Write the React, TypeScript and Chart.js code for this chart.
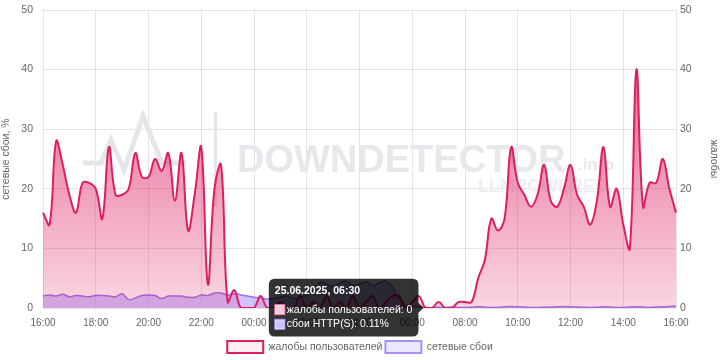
import React, { useEffect, useRef } from 'react';
import { Chart, registerables } from 'chart.js';

Chart.register(...registerables);

// 15-minute samples from 24.06.2025 16:00 to 25.06.2025 16:00
const complaints = [
  16, 14, 28, 24, 19, 16, 21, 21,
  20, 15, 27, 19, 19, 20, 26, 22,
  22, 25, 23, 26, 18, 26, 13, 19,
  27, 4, 20, 24, 1, 3, 0, 0,
  0, 2, 0, 0, 1, 0, 0, 2,
  0, 1, 0, 2, 0, 1, 0, 2,
  0, 1, 2, 0, 1, 2, 2, 0,
  1, 2, 0, 0, 1, 0, 0, 1,
  1, 1, 5, 8, 15, 13, 15, 27,
  21, 19, 17, 19, 24, 18, 17, 20,
  24, 19, 17, 14, 18, 27, 17, 20,
  14, 10, 40, 17, 21, 21, 25, 20,
  16,
];

const networkFailures = [
  2.0, 2.2, 2.0, 2.3, 1.9, 2.1, 2.0, 1.9,
  2.1, 2.1, 2.0, 1.9, 2.4, 1.4, 1.7, 2.1,
  2.2, 2.1, 1.6, 2.0, 2.0, 2.0, 1.8, 1.8,
  2.2, 2.1, 2.5, 2.5, 2.2, 2.4, 2.2, 2.0,
  1.8, 1.7, 1.5, 1.6, 1.8, 2.0, 1.6, 1.8,
  2.2, 3.0, 4.3, 4.0, 3.6, 4.2, 4.5, 3.8,
  4.0, 4.4, 3.8, 4.2, 4.5, 3.5, 1.5, 0.5,
  0.3, 0.2, 0.11, 0.1, 0.12, 0.1, 0.15, 0.1,
  0.1, 0.12, 0.2, 0.15, 0.1, 0.1, 0.2, 0.25,
  0.2, 0.15, 0.1, 0.1, 0.12, 0.15, 0.2, 0.25,
  0.2, 0.15, 0.12, 0.1, 0.12, 0.2, 0.15, 0.1,
  0.1, 0.15, 0.2, 0.15, 0.1, 0.15, 0.2, 0.25,
  0.3,
];

const hourTickLabels = [
  '16:00', '18:00', '20:00', '22:00', '00:00', '02:00', '04:00',
  '06:00', '08:00', '10:00', '12:00', '14:00', '16:00',
];

const seriesNames = ['жалобы пользователей', 'сетевые сбои'];
const tooltipNames = ['жалобы пользователей', 'сбои HTTP(S)'];
const axisTitles = ['сетевые сбои, %', 'жалобы'];
const tooltipIndex = 58;

// time stamps for each 15-minute sample
const pad = (n: number) => (n < 10 ? '0' + n : '' + n);
const timeLabels: string[] = [];
for (let i = 0; i < complaints.length; i++) {
  const minutes = 16 * 60 + i * 15;
  const day = minutes >= 24 * 60 ? '25.06.2025' : '24.06.2025';
  const m = minutes % (24 * 60);
  timeLabels.push(`${day}, ${pad(Math.floor(m / 60))}:${pad(m % 60)}`);
}

const PINK = 'rgb(222, 30, 97)';
const PURPLE_LINE = 'rgb(160, 110, 235)';
const PURPLE_FILL = 'rgba(150, 125, 250, 0.45)';
const FONT = "'Liberation Sans', Arial, Helvetica, sans-serif";
const GRID = 'rgba(0, 0, 0, 0.1)';
const TXT = '#666';

const watermarkPlugin = {
  id: 'watermark',
  afterLayout(chart: any) {
    const lg = chart.legend;
    if (lg) {
      lg.top += 3;
      lg.bottom += 3;
    }
  },
  beforeDatasetsDraw(chart: any) {
    const ctx = chart.ctx as CanvasRenderingContext2D;
    ctx.save();
    ctx.strokeStyle = '#e4e6e9';
    ctx.lineWidth = 5;
    ctx.lineJoin = 'miter';
    ctx.beginPath();
    ctx.moveTo(83, 163);
    ctx.lineTo(101, 163);
    ctx.lineTo(111, 140);
    ctx.lineTo(124, 170);
    ctx.lineTo(143, 116);
    ctx.lineTo(162, 163);
    ctx.lineTo(186, 163);
    ctx.stroke();
    ctx.fillStyle = '#e4e6e9';
    ctx.fillRect(214, 112, 3, 95);
    ctx.fillStyle = '#e6e8eb';
    ctx.textBaseline = 'alphabetic';
    ctx.textAlign = 'left';
    ctx.font = `bold 38px ${FONT}`;
    ctx.fillText('DOWNDETECTOR', 237, 172);
    ctx.font = `bold 17px ${FONT}`;
    ctx.fillText('.info', 578, 170);
    ctx.fillStyle = '#eceef0';
    ctx.font = `bold 18px ${FONT}`;
    ctx.fillText('LLMPOWERED', 478, 192);
    ctx.restore();
  },
};

export default function App() {
  const canvasRef = useRef<HTMLCanvasElement | null>(null);

  useEffect(() => {
    document.body.style.margin = '0';
    const canvas = canvasRef.current;
    if (!canvas) return;

    const pinkFill = (c: any) => {
      const area = c.chart.chartArea;
      if (!area) return 'rgba(222, 30, 97, 0.4)';
      const g = c.chart.ctx.createLinearGradient(0, area.top, 0, area.bottom);
      g.addColorStop(0, 'rgba(222, 30, 97, 0.8)');
      g.addColorStop(1, 'rgba(222, 30, 97, 0.18)');
      return g;
    };

    const fitVertical = (w: number) => (s: any) => {
      s.width = w;
      s.paddingTop = 0;
      s.paddingBottom = 0;
    };

    const chart = new Chart(canvas, {
      type: 'line',
      data: {
        labels: timeLabels,
        datasets: [
          {
            label: seriesNames[0],
            data: complaints,
            yAxisID: 'y1',
            borderColor: PINK,
            backgroundColor: pinkFill,
            borderWidth: 2,
            fill: 'origin',
            tension: 0.4,
            pointRadius: 0,
            pointHoverRadius: 0,
          },
          {
            label: seriesNames[1],
            data: networkFailures,
            yAxisID: 'y',
            borderColor: PURPLE_LINE,
            backgroundColor: PURPLE_FILL,
            borderWidth: 1.5,
            fill: 'origin',
            tension: 0.4,
            pointRadius: 0,
            pointHoverRadius: 0,
          },
        ],
      },
      options: {
        responsive: false,
        animation: false,
        font: { family: FONT },
        layout: { padding: { top: 10, left: 0, right: 0, bottom: 0 } },
        interaction: { mode: 'index', intersect: false },
        scales: {
          x: {
            type: 'category',
            offset: false,
            grid: {
              color: (c: any) => (c.index % 8 === 0 ? GRID : 'transparent'),
              drawTicks: false,
            },
            border: { display: false },
            ticks: {
              autoSkip: false,
              maxRotation: 0,
              padding: 9,
              color: TXT,
              font: { size: 10, family: FONT },
              callback: (_v: any, i: number) => (i % 8 === 0 ? hourTickLabels[i / 8] : ''),
            },
            afterFit: (s: any) => { s.height = 27; s.paddingLeft = 0; s.paddingRight = 0; },
          },
          y: {
            position: 'left',
            min: 0,
            max: 50,
            grid: { color: GRID, drawTicks: false },
            border: { display: false },
            ticks: { stepSize: 10, padding: 10, color: TXT, font: { size: 10.5, family: FONT } },
            title: { display: true, text: axisTitles[0], color: TXT, font: { size: 10.5, family: FONT }, padding: 0 },
            afterFit: fitVertical(43),
          },
          y1: {
            position: 'right',
            min: 0,
            max: 50,
            grid: { drawOnChartArea: false, drawTicks: false },
            border: { display: false },
            ticks: { stepSize: 10, padding: 4, color: TXT, font: { size: 10.5, family: FONT } },
            title: { display: true, text: axisTitles[1], color: TXT, font: { size: 10.5, family: FONT }, padding: 0 },
            afterFit: fitVertical(44),
          },
        },
        plugins: {
          legend: {
            position: 'bottom',
            labels: {
              boxWidth: 36,
              boxHeight: 12,
              padding: 3,
              color: TXT,
              font: { size: 10.5, family: FONT },
              generateLabels: () => [
                {
                  text: seriesNames[0],
                  fillStyle: 'rgba(222, 30, 97, 0.08)',
                  strokeStyle: PINK,
                  lineWidth: 2,
                  datasetIndex: 0,
                  hidden: false,
                  fontColor: TXT,
                },
                {
                  text: seriesNames[1],
                  fillStyle: 'rgba(150, 125, 250, 0.18)',
                  strokeStyle: 'rgb(170, 145, 250)',
                  lineWidth: 2,
                  datasetIndex: 1,
                  hidden: false,
                  fontColor: TXT,
                },
              ],
            },
          },
          tooltip: {
            enabled: true,
            mode: 'index',
            intersect: false,
            backgroundColor: 'rgba(0, 0, 0, 0.8)',
            titleFont: { size: 10.5, weight: 'bold', family: FONT },
            bodyFont: { size: 10.5, family: FONT },
            boxWidth: 10,
            boxHeight: 10,
            callbacks: {
              title: (items: any[]) => timeLabels[items[0].dataIndex],
              label: (item: any) =>
                item.datasetIndex === 0
                  ? `${tooltipNames[0]}: ${item.raw}`
                  : `${tooltipNames[1]}: ${item.raw}%`,
              labelColor: (item: any) =>
                item.datasetIndex === 0
                  ? { borderColor: 'rgb(235, 120, 160)', backgroundColor: 'rgb(248, 200, 218)' }
                  : { borderColor: 'rgb(170, 150, 250)', backgroundColor: 'rgb(205, 195, 252)' },
            },
          },
        },
      } as any,
      plugins: [watermarkPlugin],
    });

    const el = chart.getDatasetMeta(0).data[tooltipIndex] as any;
    const active = [
      { datasetIndex: 0, index: tooltipIndex },
      { datasetIndex: 1, index: tooltipIndex },
    ];
    chart.setActiveElements(active);
    chart.tooltip?.setActiveElements(active, { x: el.x, y: el.y });
    chart.update();

    return () => chart.destroy();
  }, []);

  return <canvas ref={canvasRef} width={720} height={360} style={{ display: 'block' }} />;
}
